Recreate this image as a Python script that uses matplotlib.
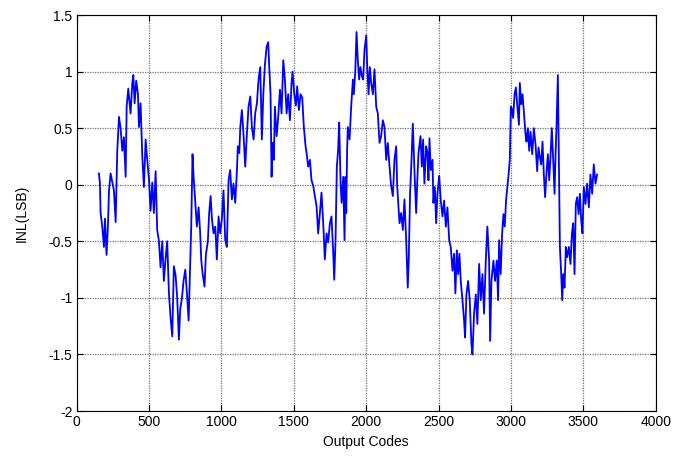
import matplotlib
matplotlib.use("Agg")
import matplotlib.pyplot as plt

# INL curve, values (output code, INL in LSB)
codes = [
    153, 160, 165, 177, 188, 195, 206, 216, 223, 234, 246, 257, 269, 280, 292, 303,
    315, 326, 338, 345, 356, 372, 384, 391, 400, 411, 423, 430, 441, 453, 464, 476,
    487, 499, 510, 522, 533, 545, 556, 568, 579, 591, 602, 614, 625, 637, 648, 660,
    671, 683, 694, 706,
    715, 727, 738, 750, 761, 773, 784, 791, 800, 807, 819, 830, 842, 853, 860, 869,
    883, 892, 906, 915, 925, 934, 945, 957, 968, 980, 991, 1003, 1014, 1026, 1037,
    1049, 1060, 1072, 1083, 1095, 1107, 1113, 1123, 1130, 1141, 1153, 1164, 1176,
    1187, 1199, 1210, 1222, 1233, 1245, 1256, 1268, 1279,
    1289, 1300, 1312, 1323, 1330, 1339, 1346, 1353, 1362, 1369, 1381, 1392, 1404,
    1415, 1427, 1438, 1450, 1461, 1473, 1484, 1491, 1503, 1514, 1523, 1535, 1546,
    1558, 1569, 1581, 1588, 1599, 1611, 1622, 1634, 1645, 1657, 1668, 1680, 1691,
    1703, 1714, 1726, 1737, 1749, 1760, 1772, 1779, 1788, 1797, 1806, 1813, 1823,
    1830, 1841,
    1850, 1857, 1862, 1868, 1873, 1885, 1896, 1908, 1914, 1924, 1933, 1942, 1951,
    1960, 1970, 1979, 1988, 2000, 2007, 2016, 2025, 2034, 2046, 2057, 2069, 2080,
    2092, 2103, 2115, 2126, 2138, 2149, 2161, 2172, 2184, 2195, 2207, 2214, 2223,
    2230, 2241, 2253, 2264, 2276, 2287, 2294, 2303, 2310, 2322, 2333, 2345, 2352,
    2361, 2375, 2384, 2393, 2402, 2414,
    2423, 2430, 2437, 2446, 2458, 2464, 2474, 2483, 2492, 2504, 2515, 2527, 2538,
    2550, 2561, 2573, 2584, 2596, 2607, 2616, 2626, 2635, 2644, 2653, 2665, 2676,
    2683, 2692, 2704, 2715, 2727, 2734, 2745, 2757, 2768, 2780, 2791, 2803, 2814,
    2826, 2837, 2849, 2856, 2865, 2879, 2890, 2902, 2911, 2918, 2929, 2939, 2948,
    2957, 2966, 2975, 2982, 2992, 2999,
    3004, 3015, 3025, 3034, 3043, 3055, 3061, 3071, 3080, 3089, 3101, 3107, 3117,
    3126, 3135, 3147, 3158, 3170, 3181, 3190, 3200, 3209, 3218, 3227, 3236, 3246,
    3255, 3264, 3273, 3282, 3292, 3301, 3308, 3315, 3324, 3331, 3338, 3347, 3354,
    3361, 3370, 3379, 3388, 3400, 3411, 3421, 3430, 3439, 3448, 3457, 3467, 3476,
    3485, 3494, 3503, 3515, 3526, 3538, 3549, 3561, 3572, 3584, 3595,
]
inl = [
    0.10, 0.02, -0.25, -0.38, -0.55, -0.30, -0.62, -0.35, -0.05, 0.10, 0.02, -0.05,
    -0.33, 0.30, 0.60, 0.50, 0.30, 0.42, 0.07, 0.69, 0.85, 0.63, 0.90, 0.97, 0.72,
    0.92, 0.80, 0.51, 0.72, 0.25, -0.02, 0.40, 0.22, 0.05, -0.23, 0.02, -0.25, 0.12,
    -0.40, -0.50, -0.73, -0.50, -0.85, -0.65, -0.50, -0.96, -1.17, -1.34, -0.72,
    -0.80, -1.00, -1.37,
    -1.10, -1.00, -0.85, -0.75, -0.95, -1.20, -0.70, -0.37, 0.27, 0.08, -0.16, -0.37,
    -0.20, -0.43, -0.66, -0.78, -0.90, -0.62, -0.50, -0.25, -0.10, -0.30, -0.43,
    -0.37, -0.66, -0.28, -0.43, -0.30, -0.05, -0.49, -0.55, 0.04, 0.13, -0.13, 0.01,
    -0.16, 0.13, 0.34, 0.28, 0.51, 0.66, 0.43, 0.16, 0.46, 0.69, 0.78, 0.51, 0.40,
    0.63, 0.72, 0.93, 1.04, 0.40,
    0.80, 1.06, 1.22, 1.26, 1.04, 0.80, 0.07, 0.37, 0.22, 0.69, 0.43, 0.60, 0.84,
    0.63, 1.10, 0.93, 0.63, 0.80, 0.57, 0.90, 1.00, 0.80, 0.70, 0.87, 0.66, 0.80,
    0.77, 0.51, 0.34, 0.28, 0.16, 0.22, 0.04, -0.01, -0.10, -0.19, -0.43, -0.25,
    -0.07, -0.34, -0.66, -0.43, -0.51, -0.34, -0.28, -0.60, -0.84, -0.49, 0.16, 0.31,
    0.55, 0.01, -0.16, 0.07,
    -0.49, 0.07, -0.25, 0.31, 0.51, 0.40, 0.69, 0.93, 0.80, 0.99, 1.35, 1.10, 0.93,
    1.04, 0.96, 0.93, 1.19, 1.32, 1.04, 0.80, 1.04, 0.90, 0.80, 1.02, 0.69, 0.63,
    0.37, 0.43, 0.57, 0.51, 0.22, 0.37, 0.16, -0.01, -0.10, 0.22, 0.34, -0.01, -0.19,
    -0.34, -0.25, -0.40, -0.13, -0.49, -0.91, -0.66, -0.07, 0.13, 0.54, 0.13, -0.25,
    0.01, 0.28, 0.43, 0.16, 0.40, 0.01, 0.34,
    0.28, 0.04, 0.41, 0.13, 0.22, -0.16, -0.02, -0.34, -0.08, 0.08, -0.14, -0.28,
    -0.14, -0.37, -0.20, -0.49, -0.55, -0.76, -0.61, -0.96, -0.58, -0.79, -0.61,
    -0.85, -1.02, -1.20, -1.35, -0.97, -0.85, -1.02, -1.41, -1.50, -1.14, -0.97,
    -1.23, -0.70, -1.02, -0.79, -1.14, -0.67, -0.37, -0.67, -1.38, -0.85, -0.67,
    -0.85, -0.67, -1.02, -0.49, -0.79, -0.43, -0.26, -0.37, -0.14, -0.02, 0.07, 0.22,
    0.69,
    0.68, 0.59, 0.80, 0.86, 0.71, 0.53, 0.90, 0.71, 0.80, 0.65, 0.44, 0.38, 0.50,
    0.30, 0.47, 0.27, 0.50, 0.35, 0.12, 0.33, 0.24, 0.18, 0.38, 0.09, -0.11, 0.12,
    0.27, 0.04, 0.24, 0.50, 0.21, -0.08, 0.27, 0.53, 0.97, 0.21, -0.55, -0.79, -1.02,
    -0.79, -0.91, -0.55, -0.64, -0.55, -0.70, -0.43, -0.34, -0.79, -0.17, -0.11,
    -0.26, -0.08, -0.31, -0.43, -0.02, -0.17, 0.01, -0.20, 0.09, -0.08, 0.18, 0.01,
    0.09,
]

x_ticks = [0, 500, 1000, 1500, 2000, 2500, 3000, 3500, 4000]
y_ticks = [-2, -1.5, -1, -0.5, 0, 0.5, 1, 1.5]

plt.rcParams["font.family"] = ["Liberation Sans", "DejaVu Sans"]
plt.rcParams["font.size"] = 10

fig = plt.figure(figsize=(6.76, 4.58), dpi=100)
ax = fig.add_axes([0.1135, 0.1026, 0.8565, 0.8646])

ax.plot(codes, inl, color="#0000ff", linewidth=1.3)

ax.set_xlim(0, 4000)
ax.set_ylim(-2, 1.5)
ax.set_xticks(x_ticks)
ax.set_yticks(y_ticks)
ax.set_xticklabels([str(t) for t in x_ticks])
ax.set_yticklabels(["-2", "-1.5", "-1", "-0.5", "0", "0.5", "1", "1.5"])

# matlab look: dotted grid, ticks inside on all sides
ax.grid(True, color="0.45", linestyle=(0, (1, 1)), linewidth=0.9)
ax.set_axisbelow(True)
ax.tick_params(direction="in", length=4, width=0.8, top=True, right=True,
               labelsize=10, pad=3)
for s in ax.spines.values():
    s.set_linewidth(0.8)

ax.set_xlabel("Output Codes", fontsize=10, labelpad=4)
ax.set_ylabel("INL(LSB)", fontsize=10, labelpad=14)

fig.savefig("out.png", dpi=100)
